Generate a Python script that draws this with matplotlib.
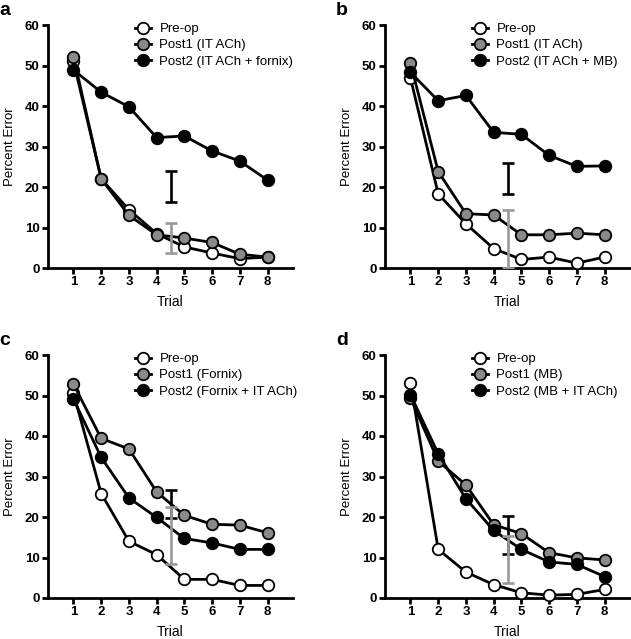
import matplotlib
matplotlib.use("Agg")
import matplotlib.pyplot as plt

plt.rcParams["font.family"] = ["Liberation Sans", "DejaVu Sans"]

trials = [1, 2, 3, 4, 5, 6, 7, 8]

# panel a
a_labels = ["Pre-op", "Post1 (IT ACh)", "Post2 (IT ACh + fornix)"]
a_pre = [51.0, 22.0, 14.4, 8.5, 5.2, 3.7, 2.3, 2.7]
a_post1 = [52.2, 22.0, 13.0, 8.2, 7.4, 6.3, 3.4, 2.7]
a_post2 = [48.9, 43.4, 39.8, 32.2, 32.6, 28.9, 26.4, 21.7]
a_err_black = [16.2, 23.9]
a_err_gray = [3.8, 11.0]

# panel b
b_labels = ["Pre-op", "Post1 (IT ACh)", "Post2 (IT ACh + MB)"]
b_pre = [46.9, 18.3, 10.9, 4.8, 2.1, 2.7, 1.2, 2.7]
b_post1 = [50.6, 23.8, 13.4, 13.1, 8.2, 8.2, 8.6, 8.2]
b_post2 = [48.3, 41.3, 42.6, 33.5, 33.0, 27.8, 25.1, 25.2]
b_err_black = [18.3, 25.9]
b_err_gray = [0.0, 14.4]

# panel c
c_labels = ["Pre-op", "Post1 (Fornix)", "Post2 (Fornix + IT ACh)"]
c_pre = [50.5, 25.8, 14.0, 10.7, 4.6, 4.6, 3.1, 3.1]
c_post1 = [52.8, 39.4, 36.8, 26.2, 20.4, 18.2, 18.0, 16.1]
c_post2 = [49.1, 34.7, 24.7, 19.9, 14.7, 13.6, 12.0, 12.0]
c_err_black = [19.7, 26.7]
c_err_gray = [8.5, 22.5]

# panel d
d_labels = ["Pre-op", "Post1 (MB)", "Post2 (MB + IT ACh)"]
d_pre = [53.1, 12.0, 6.4, 3.3, 1.3, 0.7, 0.9, 2.1]
d_post1 = [49.4, 33.8, 27.9, 18.1, 15.9, 11.2, 9.9, 9.4]
d_post2 = [50.2, 35.6, 24.5, 16.7, 12.0, 8.9, 8.3, 5.3]
d_err_black = [10.8, 20.3]
d_err_gray = [3.7, 15.3]

ERR_X = 4.5
GRAY = "#8a8a8a"
ERR_GRAY = "#999999"

W, H = 631, 639


def draw_panel(ax, letter, labels, pre, post1, post2, err_black, err_gray):
    series = [(pre, "white"), (post1, GRAY), (post2, "black")]
    for i, (vals, face) in enumerate(series):
        ax.plot(trials, vals, "-o", color="black", lw=2.0, ms=8.3,
                mfc=face, mec="black", mew=1.3, label=labels[i],
                zorder=3 + i, clip_on=False)

    for (lo, hi), col in [(err_black, "black"), (err_gray, ERR_GRAY)]:
        mid = (lo + hi) / 2.0
        ax.errorbar([ERR_X], [mid], yerr=[[mid - lo], [hi - mid]], fmt="none",
                    ecolor=col, elinewidth=1.9, capsize=4.5, capthick=1.9,
                    zorder=7)

    ax.set_xlim(0.08, 8.92)
    ax.set_ylim(0, 60)
    ax.set_xticks(trials)
    ax.set_yticks(range(0, 61, 10))
    for side in ["top", "right"]:
        ax.spines[side].set_visible(False)
    for side in ["left", "bottom"]:
        ax.spines[side].set_linewidth(2.0)
    ax.tick_params(width=2.0, length=4, labelsize=9.5, pad=2)
    for lab in ax.get_xticklabels() + ax.get_yticklabels():
        lab.set_fontweight("bold")
    ax.set_xlabel("Trial", fontsize=10, labelpad=5)
    ax.set_ylabel("Percent Error", fontsize=9.5, labelpad=6)

    ax.legend(loc="upper left", bbox_to_anchor=(0.355, 1.008),
              frameon=False, fontsize=9.5, handlelength=1.25,
              handletextpad=0.6, labelspacing=0.3, borderpad=0,
              borderaxespad=0)
    ax.text(-0.2, 1.095, letter, transform=ax.transAxes, fontsize=14,
            fontweight="bold", va="top", ha="left")


fig = plt.figure(figsize=(W / 100, H / 100), dpi=100)

ax_w = 245 / W
ax_h = 243 / H
ax_a = fig.add_axes([48 / W, 1 - 268 / H, ax_w, ax_h])
ax_b = fig.add_axes([385 / W, 1 - 268 / H, ax_w, ax_h])
ax_c = fig.add_axes([48 / W, 1 - 598 / H, ax_w, ax_h])
ax_d = fig.add_axes([385 / W, 1 - 598 / H, ax_w, ax_h])

draw_panel(ax_a, "a", a_labels, a_pre, a_post1, a_post2, a_err_black, a_err_gray)
draw_panel(ax_b, "b", b_labels, b_pre, b_post1, b_post2, b_err_black, b_err_gray)
draw_panel(ax_c, "c", c_labels, c_pre, c_post1, c_post2, c_err_black, c_err_gray)
draw_panel(ax_d, "d", d_labels, d_pre, d_post1, d_post2, d_err_black, d_err_gray)

fig.savefig("out.png", dpi=100)
